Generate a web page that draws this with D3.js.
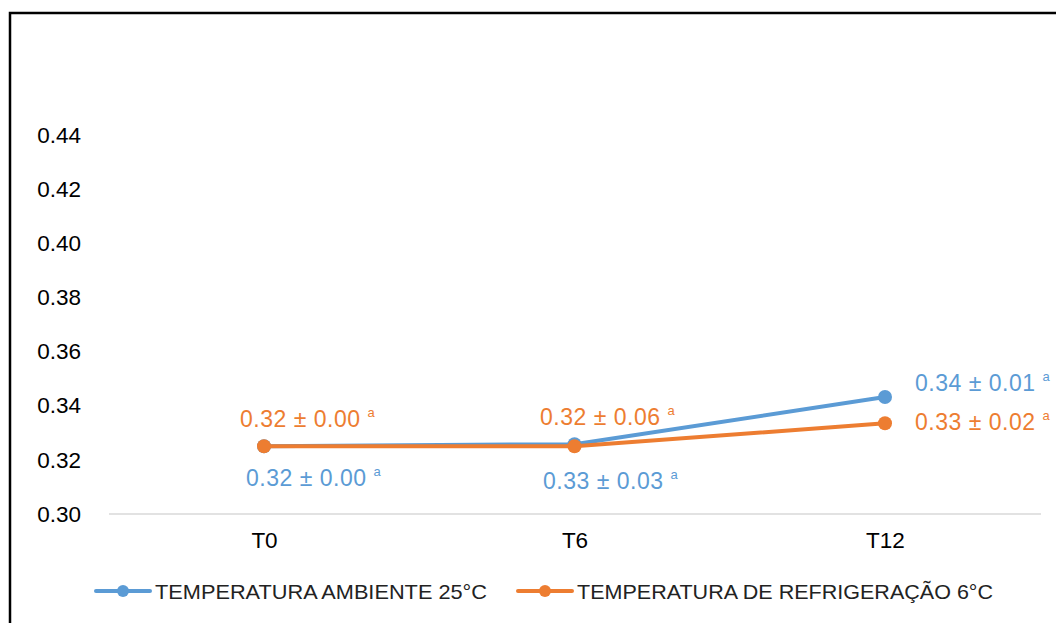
<!DOCTYPE html>
<html><head><meta charset="utf-8">
<script src="https://cdn.jsdelivr.net/npm/d3@7/dist/d3.min.js"></script>
<style>body{margin:0;background:#fff}svg{display:block;font-family:"Liberation Sans",Arial,sans-serif}</style>
</head><body><svg id="c" width="1056" height="623"></svg>
<script>
const categories = ["T0","T6","T12"];
const seriesNames = ["TEMPERATURA AMBIENTE 25°C","TEMPERATURA DE REFRIGERAÇÃO 6°C"];
const ambiente = [0.325, 0.3258, 0.3432];
const refrigeracao = [0.325, 0.325, 0.3335];
const ambienteLabels = ["0.32 ± 0.00","0.33 ± 0.03","0.34 ± 0.01"];
const refrigeracaoLabels = ["0.32 ± 0.00","0.32 ± 0.06","0.33 ± 0.02"];
const letters = ["a","a","a"];
const yTicks = [0.30,0.32,0.34,0.36,0.38,0.40,0.42,0.44];
const colors = ["#5B9BD5","#ED7D31"];

const svg = d3.select("#c");
svg.append("path").attr("d","M10,630 L10,13 L1060,13").attr("fill","none").attr("stroke","#000").attr("stroke-width",2.5);

const x = d3.scalePoint().domain(categories).range([264, 885]);
const y = d3.scaleLinear().domain([0.30,0.44]).range([514,135]);

svg.append("line").attr("x1",109).attr("x2",1041).attr("y1",y(0.30)).attr("y2",y(0.30)).attr("stroke","#d9d9d9").attr("stroke-width",1.5);

const yAxis = d3.axisLeft(y).tickValues(yTicks).tickFormat(d3.format(".2f")).tickSize(0).tickPadding(0);
const gy = svg.append("g").attr("transform","translate(81,0)").call(yAxis);
gy.select(".domain").remove();
gy.selectAll("text").attr("font-size",22.5).attr("fill","#000").attr("font-family","Liberation Sans, Arial, sans-serif");

const xAxis = d3.axisBottom(x).tickSize(0).tickPadding(0);
const gx = svg.append("g").attr("transform","translate(0,532)").call(xAxis);
gx.select(".domain").remove();
gx.selectAll("text").attr("font-size",22.5).attr("fill","#000").attr("font-family","Liberation Sans, Arial, sans-serif");

const series = [ambiente, refrigeracao];
const line = d3.line().x((d,i)=>x(categories[i])).y(d=>y(d));
series.forEach((s,k)=>{
  svg.append("path").datum(s).attr("d",line).attr("fill","none").attr("stroke",colors[k]).attr("stroke-width",4).attr("stroke-linecap","round");
  svg.selectAll(null).data(s).enter().append("circle").attr("cx",(d,i)=>x(categories[i])).attr("cy",d=>y(d)).attr("r",7).attr("fill",colors[k]);
});

const labelPos = [
  {s:0,i:0,left:246,by:486},{s:0,i:1,left:543,by:489},{s:0,i:2,left:915,by:391},
  {s:1,i:0,left:240,by:427},{s:1,i:1,left:540,by:425},{s:1,i:2,left:915,by:430}
];
const labelsArr=[ambienteLabels,refrigeracaoLabels];
labelPos.forEach(p=>{
  const t = svg.append("text").attr("x",p.left).attr("y",p.by).attr("fill",colors[p.s]).attr("font-size",23);
  t.append("tspan").attr("textLength",120).attr("lengthAdjust","spacing").text(labelsArr[p.s][p.i]);
  t.append("tspan").attr("font-size",13).attr("dx",7).attr("dy",-10).text(letters[p.i]);
});

const leg = [{x0:96,tx:155,w:332},{x0:518,tx:577,w:416}];
leg.forEach((l,k)=>{
  svg.append("line").attr("x1",l.x0).attr("x2",l.x0+54).attr("y1",591).attr("y2",591).attr("stroke",colors[k]).attr("stroke-width",4).attr("stroke-linecap","round");
  svg.append("circle").attr("cx",l.x0+27).attr("cy",591).attr("r",6).attr("fill",colors[k]);
  svg.append("text").attr("x",l.tx).attr("y",599).attr("font-size",21).attr("fill","#222").attr("textLength",l.w).attr("lengthAdjust","spacingAndGlyphs").text(seriesNames[k]);
});
</script></body></html>
